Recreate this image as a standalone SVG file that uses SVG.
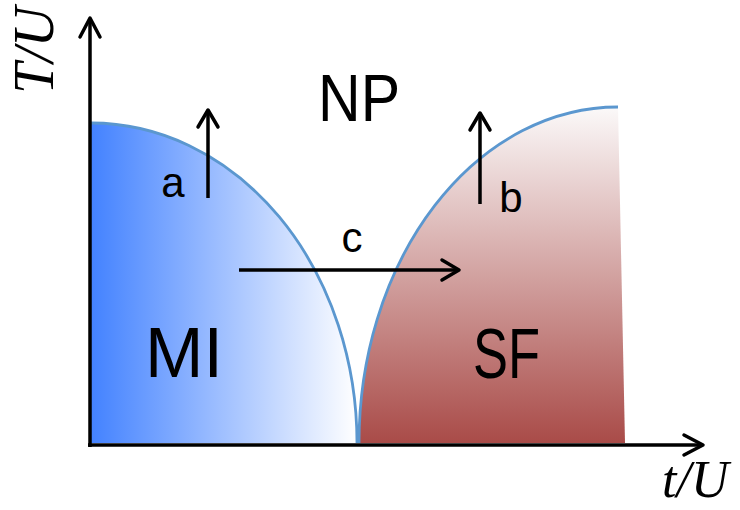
<svg xmlns="http://www.w3.org/2000/svg" width="740" height="510" viewBox="0 0 740 510">
<defs>
<linearGradient id="gMI" x1="0" y1="0" x2="1" y2="0">
<stop offset="0" stop-color="#4382ff"/>
<stop offset="1" stop-color="#ffffff"/>
</linearGradient>
<linearGradient id="gSF" x1="0" y1="0" x2="0" y2="1">
<stop offset="0" stop-color="#fbf9f9"/>
<stop offset="1" stop-color="#a94b48"/>
</linearGradient>
<marker id="arr" viewBox="0 0 26 26" refX="21" refY="13" markerWidth="26" markerHeight="26" markerUnits="userSpaceOnUse" orient="auto">
<polyline points="4,3 21,13 4,23" fill="none" stroke="#000" stroke-width="3.5" stroke-linecap="round" stroke-linejoin="round"/>
</marker>
<marker id="axarr" viewBox="0 0 26 26" refX="22" refY="13" markerWidth="26" markerHeight="26" markerUnits="userSpaceOnUse" orient="auto">
<polyline points="3,3 22,13 3,23" fill="none" stroke="#000" stroke-width="3.5" stroke-linecap="round" stroke-linejoin="round"/>
</marker>
<style>
.lbl{font-family:"Liberation Sans","Noto Sans",sans-serif;fill:#000}
.ax{font-family:"Liberation Serif","DejaVu Serif",serif;font-style:italic;fill:#000}
.bound{fill:none;stroke:#5b97cf;stroke-width:2.8}
.arrow{stroke:#000;stroke-width:3.5;fill:none;marker-end:url(#arr)}
.axis{stroke:#000;stroke-width:3.5;fill:none;marker-end:url(#axarr)}
</style>
</defs>
<g id="MI">
<path d="M91,443 L91,123 A266,320 0 0 1 357,443 Z" fill="url(#gMI)"/>
<path class="bound" d="M91,123 A266,320 0 0 1 357,443"/>
<text class="lbl" x="145" y="377" font-size="70" textLength="78" lengthAdjust="spacingAndGlyphs">MI</text>
</g>
<g id="SF">
<path d="M359,443 A259,336 0 0 1 618,107 L625,443 Z" fill="url(#gSF)"/>
<path class="bound" d="M359,443 A259,336 0 0 1 618,107"/>
<text class="lbl" x="473" y="378" font-size="70" textLength="67" lengthAdjust="spacingAndGlyphs">SF</text>
</g>
<g id="NP">
<text class="lbl" x="318" y="121" font-size="67" textLength="82" lengthAdjust="spacingAndGlyphs">NP</text>
</g>
<g id="axes">
<line class="axis" x1="90" y1="447" x2="90" y2="18"/>
<line class="axis" x1="88" y1="445" x2="703" y2="445"/>
<text class="ax" x="0" y="0" font-size="56" transform="translate(53,94) rotate(-90)">T/U</text>
<text class="ax" x="662" y="497" font-size="52">t/U</text>
</g>
<g id="connectors">
<line class="arrow" x1="208" y1="198" x2="208" y2="110"/>
<line class="arrow" x1="480" y1="204" x2="480" y2="113"/>
<line class="arrow" x1="239" y1="270" x2="459" y2="270"/>
</g>
<g id="labels">
<text class="lbl" x="173" y="197" font-size="42" text-anchor="middle">a</text>
<text class="lbl" x="511" y="212" font-size="42" text-anchor="middle">b</text>
<text class="lbl" x="352" y="252" font-size="42" text-anchor="middle">c</text>
</g>
</svg>
